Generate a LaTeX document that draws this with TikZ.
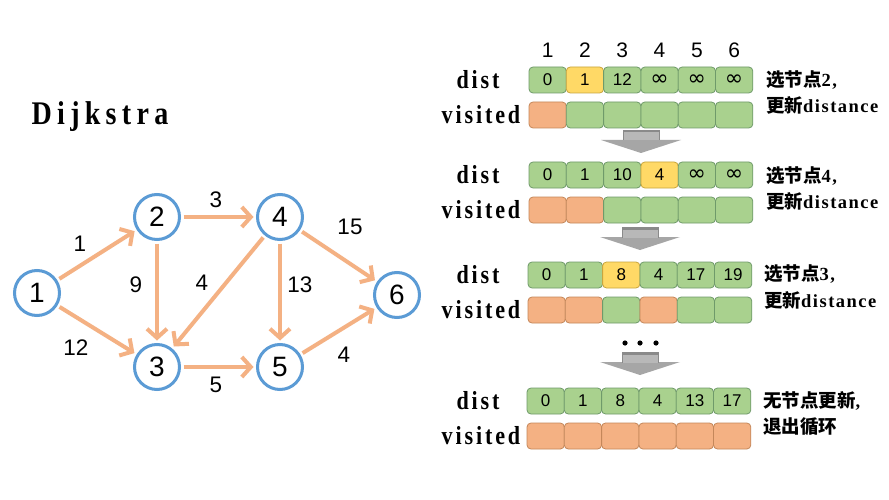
\documentclass[tikz,border=0pt]{standalone}
\usepackage{fontspec}
\usetikzlibrary{arrows.meta}
\setmainfont{Liberation Serif}
\newfontfamily\lat{Liberation Serif}[LetterSpace=11,FakeStretch=0.85]
\newfontfamily\latn{Liberation Serif}[LetterSpace=8]
\newfontfamily\latT{Liberation Serif}[LetterSpace=16,FakeStretch=0.85]
\newfontfamily\sansf{Liberation Sans}
\newfontfamily\dejav{DejaVu Sans}
\newfontfamily\cjk{Noto Sans CJK SC}
\newcommand\inff{{\dejav\fontsize{22}{16}\selectfont ∞}}
\definecolor{nodeblue}{HTML}{5B9BD5}
\definecolor{edgeorange}{HTML}{F4B183}
\definecolor{gF}{HTML}{A9D18E}
\definecolor{gL}{HTML}{6F9A6A}
\definecolor{yF}{HTML}{FFD966}
\definecolor{yL}{HTML}{C9A53E}
\definecolor{oF}{HTML}{F4B183}
\definecolor{oL}{HTML}{C4875A}
\definecolor{arrowgray}{HTML}{A6A6A6}
\definecolor{arrowdark}{HTML}{8A8A8A}
\tikzset{
  vtx/.style={circle, draw=nodeblue, line width=3pt, minimum size=45pt, inner sep=0pt,
    outer sep=4pt, font=\sansf\fontsize{28}{28}\selectfont},
  edge/.style={draw=edgeorange, line width=4pt, -{Straight Barb[length=9pt,width=20pt]}},
  elabel/.style={font=\sansf\fontsize{22.5}{22.5}\selectfont, inner sep=0pt},
  cell/.style={rounded corners=4pt, line width=0.8pt, minimum width=37.3pt, minimum height=26pt,
    inner sep=0pt, font=\sansf\fontsize{17}{17}\selectfont},
  rowlabel/.style={font=\lat\bfseries\fontsize{26}{26}\selectfont, inner sep=0pt},
  note/.style={anchor=west, inner sep=0pt, font=\fontsize{18.5}{18.5}\selectfont},
  head/.style={font=\sansf\fontsize{21}{21}\selectfont, inner sep=0pt}
}
\newcommand\drawblock[5]{%
  % #1 name, #2 x0, #3 y of dist row, #4 dist list colour/text, #5 visited colours
  \node[rowlabel] (#1dl) at (478,#3) {dist};
  \node[rowlabel] (#1vl) at (481,#3+35) {visited};
  \foreach \kk/\tt [count=\i] in {#4} {
    \node[cell, fill=\kk F, draw=\kk L] (#1d\i) at ({#2+18.65+37.3*(\i-1)},#3) {\tt};
  }
  \foreach \kk [count=\i] in {#5} {
    \node[cell, fill=\kk F, draw=\kk L] (#1v\i) at ({#2+18.65+37.3*(\i-1)},#3+35) {};
  }
}
\newcommand\blockarrow[2]{%
  \fill[arrowgray] (#1-40,#2+10) -- (#1+40,#2+10) -- (#1,#2+23) -- cycle;
  \fill[arrowdark] (#1-18.5,#2) rectangle (#1+18.5,#2+10.5);
  \fill[arrowgray!80!white] (#1-17.5,#2+2.5) rectangle (#1+17.5,#2+10.5);
}
\begin{document}
\begin{tikzpicture}[x=1pt,y=-1pt]
\useasboundingbox (0,0) rectangle (889,500);
\fill[white] (0,0) rectangle (889,500);

% title
\node[font=\latT\bfseries\fontsize{33}{33}\selectfont, inner sep=0pt] (title) at (100,117) {Dijkstra};

% graph
\node[vtx] (n1) at (37,293) {1};
\node[vtx] (n2) at (157,217) {2};
\node[vtx] (n3) at (157,367) {3};
\node[vtx] (n4) at (280,217) {4};
\node[vtx] (n5) at (280,367) {5};
\node[vtx] (n6) at (397,295) {6};

\draw[edge] (n1) -- (n2);
\draw[edge] (n1) -- (n3);
\draw[edge] (n2) -- (n4);
\draw[edge] (n2) -- (n3);
\draw[edge] (n4) -- (n3);
\draw[edge] (n4) -- (n5);
\draw[edge] (n4) -- (n6);
\draw[edge] (n3) -- (n5);
\draw[edge] (n5) -- (n6);

\node[elabel] (w12) at (80,244) {1};
\node[elabel] (w13) at (76,348) {12};
\node[elabel] (w24) at (216,200) {3};
\node[elabel] (w23) at (136,285) {9};
\node[elabel] (w43) at (202,283) {4};
\node[elabel] (w45) at (300,285) {13};
\node[elabel] (w46) at (350,227) {15};
\node[elabel] (w35) at (216,385) {5};
\node[elabel] (w56) at (344,355) {4};

% column headers
\foreach \i in {1,...,6} {
  \node[head] (h\i) at ({529+18.65+37.3*(\i-1)},50) {\i};
}

% blocks
\drawblock{a}{529}{80}{g/0,y/1,g/12,g/\inff,g/\inff,g/\inff}{o,g,g,g,g,g}
\drawblock{b}{529}{175}{g/0,g/1,g/10,y/4,g/\inff,g/\inff}{o,o,g,g,g,g}
\drawblock{c}{528}{275}{g/0,g/1,y/8,g/4,g/17,g/19}{o,o,g,o,g,g}
\drawblock{d}{527}{401}{g/0,g/1,g/8,g/4,g/13,g/17}{o,o,o,o,o,o}

% notes
\node[note] (t1a) at (766,80) {{\cjk\bfseries 选节点}{\latn\bfseries 2,}};
\node[note] (t1b) at (766,105) {{\cjk\bfseries 更新}{\latn\bfseries distance}};
\node[note] (t2a) at (766,176) {{\cjk\bfseries 选节点}{\latn\bfseries 4,}};
\node[note] (t2b) at (766,201) {{\cjk\bfseries 更新}{\latn\bfseries distance}};
\node[note] (t3a) at (764,274) {{\cjk\bfseries 选节点}{\latn\bfseries 3,}};
\node[note] (t3b) at (764,300) {{\cjk\bfseries 更新}{\latn\bfseries distance}};
\node[note] (t4a) at (763,401) {{\cjk\bfseries 无节点更新}{\latn\bfseries ,}};
\node[note] (t4b) at (763,427) {{\cjk\bfseries 退出循环}};

% block arrows
\blockarrow{641}{130}
\blockarrow{640}{227}
\blockarrow{640}{352}

% dots
\foreach \x in {625,640,656} { \fill (\x,343) circle (2.6); }
\end{tikzpicture}
\end{document}
